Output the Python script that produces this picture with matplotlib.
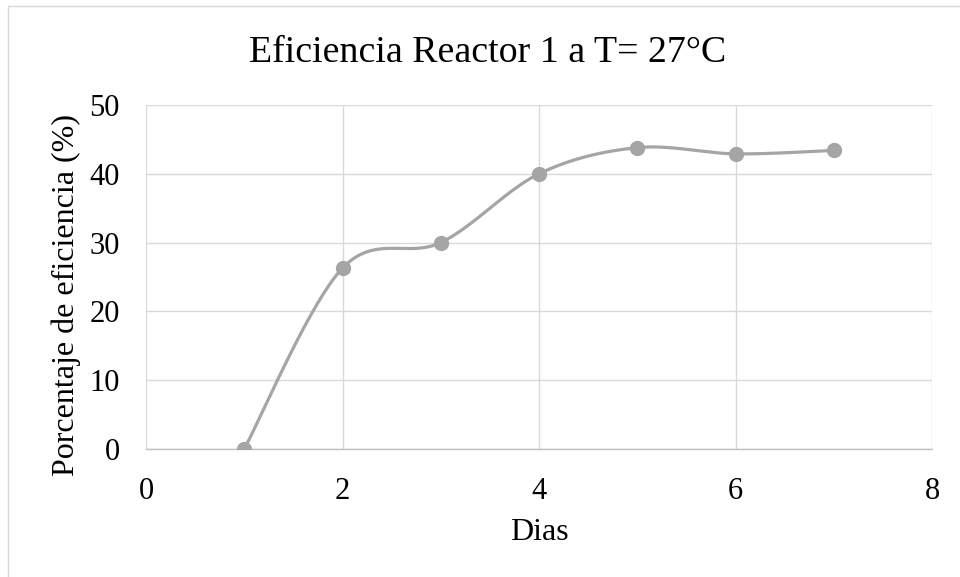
import numpy as np
import matplotlib.pyplot as plt
from matplotlib.patches import Rectangle

# data
dias = [1, 2, 3, 4, 5, 6, 7]
eficiencia = [0.0, 26.3, 30.0, 40.0, 43.8, 42.9, 43.4]

plt.rcParams['font.family'] = ['Liberation Serif', 'DejaVu Serif']

LINE = '#A5A5A5'
GRID = '#D9D9D9'
W, H = 960, 577


def smooth_curve(ax, xs, ys, n=40):
    # Excel-like smoothed line: Bezier segments with Catmull-Rom control points,
    # computed in display space so the shape follows the screen aspect
    pts = ax.transData.transform(np.column_stack([xs, ys]))
    out = []
    m = len(pts)
    for i in range(m - 1):
        p0 = pts[i - 1] if i > 0 else pts[i]
        p1 = pts[i]
        p2 = pts[i + 1]
        p3 = pts[i + 2] if i + 2 < m else pts[i + 1]
        c1 = p1 + (p2 - p0) / 6.0
        c2 = p2 - (p3 - p1) / 6.0
        t = np.linspace(0, 1, n)[:, None]
        seg = ((1 - t) ** 3) * p1 + 3 * ((1 - t) ** 2) * t * c1 + 3 * (1 - t) * t ** 2 * c2 + t ** 3 * p2
        out.append(seg if i == 0 else seg[1:])
    out = np.vstack(out)
    return ax.transData.inverted().transform(out)


fig = plt.figure(figsize=(W / 100, H / 100), dpi=100)
# plot area: x 146..932 px, y 105..449 px
ax = fig.add_axes([146 / W, 1 - 449 / H, 786 / W, 344 / H])

ax.set_xlim(0, 8)
ax.set_ylim(0, 50)
ax.set_xticks(range(0, 9, 2))
ax.set_yticks(range(0, 51, 10))

curve = smooth_curve(ax, dias, eficiencia)
ax.plot(curve[:, 0], curve[:, 1], color=LINE, lw=2.3, solid_capstyle='round', zorder=3)
ax.plot(dias, eficiencia, 'o', color=LINE, ms=10, zorder=4)

ax.grid(True, color=GRID, lw=1.0)
ax.set_axisbelow(True)
for s in ['top', 'right', 'left']:
    ax.spines[s].set_visible(False)
ax.spines['bottom'].set_color('#BFBFBF')
ax.spines['bottom'].set_linewidth(1.0)
ax.tick_params(length=0, labelsize=22, colors='black')
ax.tick_params(axis='y', pad=19)
ax.tick_params(axis='x', pad=20)

ax.set_xlabel('Dias', fontsize=23)
ax.set_ylabel('Porcentaje de eficiencia (%)', fontsize=23)
ax.xaxis.set_label_coords(0.5, (449 - 518) / 344)
ax.yaxis.set_label_coords((81 - 146) / 786, (449 - 295) / 344)

fig.text(488 / W, 1 - 36 / H, 'Eficiencia Reactor 1 a T= 27°C', fontsize=27.3,
         ha='center', va='top')

# chart frame (right and bottom edges run off the canvas)
fig.patches.append(Rectangle((8 / W, -0.05), 1.1, 1 - 6 / H + 0.05, transform=fig.transFigure,
                             fill=False, edgecolor='#D9D9D9', lw=1.0, clip_on=False))

fig.savefig('out.png', dpi=100)
